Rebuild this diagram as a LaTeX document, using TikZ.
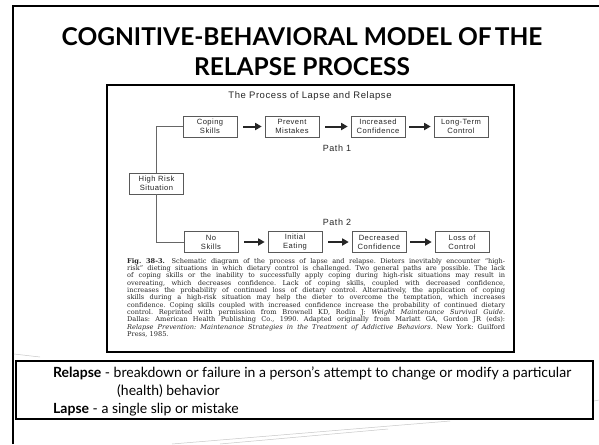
\documentclass[tikz,border=0pt]{standalone}
\usepackage{fontspec}
\setmainfont{Lato}
\newfontfamily\figsans[LetterSpace=6]{Liberation Sans}
\newfontfamily\figserif{DejaVu Serif}
\usetikzlibrary{arrows.meta}

% one justified line of the figure caption
\newcommand\capline[1]{\makebox[378pt][s]{#1}\\}

\begin{document}
\begin{tikzpicture}[x=1pt,y=-1pt,
  stage/.style={draw=black!65, line width=0.6pt, minimum width=54pt,
    minimum height=21pt, inner sep=1pt, align=center, text=black!85,
    font=\figsans\fontsize{7.6}{9}\selectfont},
  flow/.style={-{Triangle[length=6.5pt,width=7pt]}, line width=2pt, draw=black!85},
  link/.style={draw=black!60, line width=0.6pt},
  pathlabel/.style={font=\figsans\fontsize{9}{10}\selectfont, text=black!85},
  deco/.style={draw=black!22, line width=0.5pt}
]
\useasboundingbox (0,0) rectangle (599,444);
\fill[white] (0,0) rectangle (599,444);

% slide frame
\draw[line width=2pt] (13,444) -- (13,6) -- (599,6);

% faint slide decoration
\draw[deco] (172,444) -- (450,421);
\draw[deco] (220,444) -- (388,429);
\draw[deco] (14,354) -- (40,357);
\draw[deco] (594,401) -- (599,400);

% title
\node[font=\bfseries\fontsize{24.5}{28}\selectfont] (title1) at (302,37) {COGNITIVE-BEHAVIORAL MODEL OF\kern-0.12em\ THE};
\node[font=\bfseries\fontsize{24.5}{28}\selectfont] (title2) at (302,67) {RELAPSE PROCESS};

% figure panel
\draw[line width=2.2pt] (107,85) rectangle (514,352);
\node[font=\figsans\fontsize{9.5}{11}\selectfont, text=black!85] (head) at (310,96) {The Process of Lapse and Relapse};

% path 1
\node[stage] (cope)    at (210,126.5) {Coping\\Skills};
\node[stage] (prevent) at (292,126.5) {Prevent\\Mistakes};
\node[stage] (incconf) at (378,126.5) {Increased\\Confidence};
\node[stage] (ltc)     at (461,126.5) {Long-Term\\Control};
\node[pathlabel] (p1) at (337,148) {Path 1};

% high risk
\node[stage] (risk) at (156.5,183.5) {High Risk\\Situation};

% path 2
\node[pathlabel] (p2) at (337,222) {Path 2};
\node[stage] (noskill) at (211,242) {No\\Skills};
\node[stage] (eating)  at (295,242) {Initial\\Eating};
\node[stage] (decconf) at (379,242) {Decreased\\Confidence};
\node[stage] (loss)    at (462,242) {Loss of\\Control};

\draw[link] (cope.west) -| (risk.north);
\draw[link] (noskill.west) -| (risk.south);

\draw[flow] ([xshift=6pt]cope.east) -- ([xshift=-3pt]prevent.west);
\draw[flow] ([xshift=6pt]prevent.east) -- ([xshift=-3pt]incconf.west);
\draw[flow] ([xshift=4pt]incconf.east) -- ([xshift=-3pt]ltc.west);
\draw[flow] ([xshift=6pt]noskill.east) -- ([xshift=-3pt]eating.west);
\draw[flow] ([xshift=6pt]eating.east) -- ([xshift=-3pt]decconf.west);
\draw[flow] ([xshift=4pt]decconf.east) -- ([xshift=-3pt]loss.west);

% caption
\node[anchor=north west, inner sep=0pt, text=black!85] (caption) at (127,258) {%
\parbox{378pt}{\figserif\fontsize{6.6}{7.33}\selectfont\frenchspacing
\capline{\textbf{Fig. 38-3.}\quad Schematic diagram of the process of lapse and relapse. Dieters inevitably encounter “high-}
\capline{risk” dieting situations in which dietary control is challenged. Two general paths are possible. The lack}
\capline{of coping skills or the inability to successfully apply coping during high-risk situations may result in}
\capline{overeating, which decreases confidence. Lack of coping skills, coupled with decreased confidence,}
\capline{increases the probability of continued loss of dietary control. Alternatively, the application of coping}
\capline{skills during a high-risk situation may help the dieter to overcome the temptation, which increases}
\capline{confidence. Coping skills coupled with increased confidence increase the probability of continued dietary}
\capline{control. Reprinted with permission from Brownell KD, Rodin J: \textit{Weight Maintenance Survival Guide.}}
\capline{Dallas: American Health Publishing Co., 1990. Adapted originally from Marlatt GA, Gordon JR (eds):}
\capline{\textit{Relapse Prevention: Maintenance Strategies in the Treatment of Addictive Behaviors.} New York: Guilford}
Press, 1985.}};

% definitions
\draw[line width=1.3pt] (16,361) rectangle (593,419);
\node[anchor=north west, inner sep=0pt, align=left, font=\fontsize{14}{18}\selectfont] (defs) at (53,366.5) {%
\textbf{Relapse} - breakdown or failure in a person's attempt to change or modify a particular\\
\hspace{64pt}(health) behavior\\
\textbf{Lapse} - a single slip or mistake};
\end{tikzpicture}
\end{document}
